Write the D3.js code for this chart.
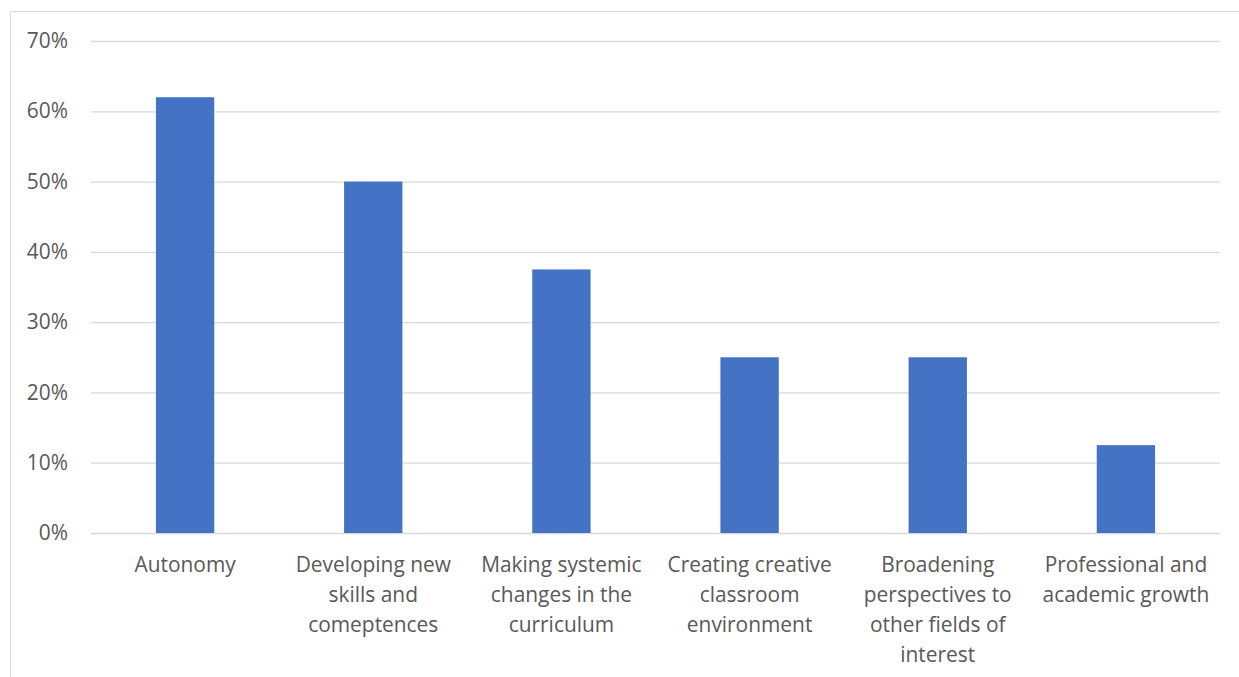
<!DOCTYPE html>
<html>
<head>
<meta charset="utf-8">
<script src="https://cdn.jsdelivr.net/npm/d3@7"></script>
<style>
  html, body { margin: 0; padding: 0; background: #fff; }
  svg { display: block; }
</style>
</head>
<body>
<svg id="chart" width="1239" height="677"></svg>
<script>
// Categories, each split into the lines shown under the axis
const categories = [
  "Autonomy",
  "Developing new skills and comeptences",
  "Making systemic changes in the curriculum",
  "Creating creative classroom environment",
  "Broadening perspectives to other fields of interest",
  "Professional and academic growth"
];
const categoryLines = [
  ["Autonomy"],
  ["Developing new", "skills and", "comeptences"],
  ["Making systemic", "changes in the", "curriculum"],
  ["Creating creative", "classroom", "environment"],
  ["Broadening", "perspectives to", "other fields of", "interest"],
  ["Professional and", "academic growth"]
];
const values = [0.62, 0.50, 0.375, 0.25, 0.25, 0.125];
const yTicks = [0, 0.1, 0.2, 0.3, 0.4, 0.5, 0.6, 0.7];

const svg = d3.select("#chart");
const W = 1239, H = 677;
const font = "'Open Sans', 'Noto Sans', sans-serif";
const fontSize = 20.9;
const textColor = "#595959";

// chart frame (extends past the right and bottom edges)
svg.append("rect")
  .attr("x", 10.5).attr("y", 11.5)
  .attr("width", W).attr("height", H)
  .attr("fill", "none").attr("stroke", "#d9d9d9").attr("stroke-width", 1);

const plotLeft = 91, plotRight = 1220, plotTop = 41, plotBottom = 533;

const x = d3.scaleBand().domain(categories).range([plotLeft, plotRight]).paddingInner(0.69).paddingOuter(0.345);
const y = d3.scaleLinear().domain([0, 0.7]).range([plotBottom, plotTop]);

// gridlines
const grid = svg.append("g")
  .attr("transform", `translate(${plotLeft},0)`)
  .call(d3.axisLeft(y).tickValues(yTicks).tickSize(-(plotRight - plotLeft)).tickFormat(""));
grid.select(".domain").remove();
grid.selectAll("line").attr("stroke", "#d9d9d9").attr("stroke-width", 1.3);

// y axis labels
const yAxis = svg.append("g")
  .attr("transform", `translate(${plotLeft},0)`)
  .call(d3.axisLeft(y).tickValues(yTicks).tickSize(0).tickPadding(23).tickFormat(d3.format(".0%")));
yAxis.select(".domain").remove();
yAxis.selectAll("text")
  .attr("font-family", font).attr("font-size", fontSize).attr("fill", textColor);

// bars
svg.append("g").selectAll("rect")
  .data(values)
  .join("rect")
  .attr("x", (d, i) => x(categories[i]))
  .attr("y", d => y(d))
  .attr("width", x.bandwidth())
  .attr("height", d => y(0) - y(d))
  .attr("fill", "#4472c4");

// category labels
const xAxis = svg.append("g")
  .attr("transform", `translate(0,${plotBottom})`)
  .call(d3.axisBottom(x).tickSize(0).tickFormat(""));
xAxis.select(".domain").remove();
xAxis.selectAll(".tick").each(function(d, i) {
  const t = d3.select(this).append("text")
    .attr("font-family", font).attr("font-size", fontSize).attr("fill", textColor)
    .attr("text-anchor", "middle");
  categoryLines[i].forEach((line, j) => {
    t.append("tspan").attr("x", 0).attr("y", 39 + j * 30).text(line);
  });
});
</script>
</body>
</html>
